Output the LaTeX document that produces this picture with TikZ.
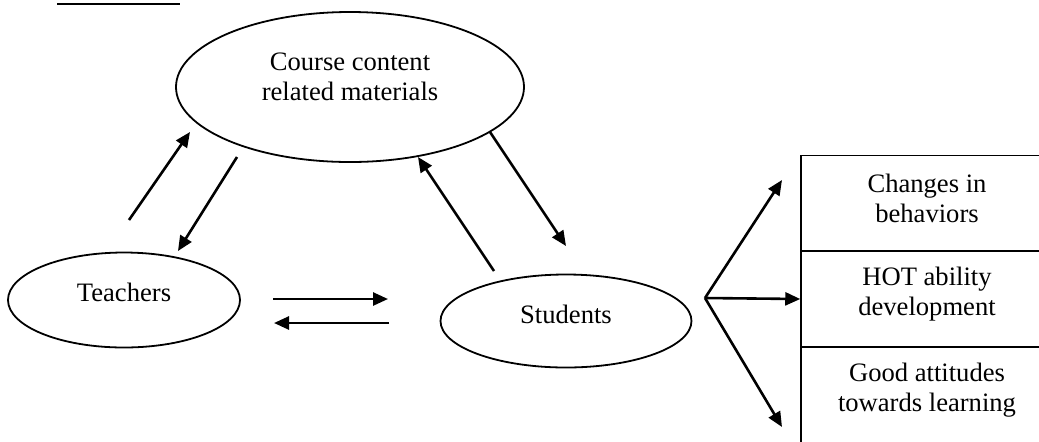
\documentclass[tikz,border=0pt]{standalone}
\usepackage{fontspec}
\setmainfont{Liberation Serif}
\usetikzlibrary{arrows.meta,shapes.geometric}

\tikzset{every picture/.style={line width=0.75pt}}
\tikzset{
  oval/.style={draw, ellipse, inner sep=0pt, line width=0.9pt},
  txt/.style={inner sep=0pt, align=center, font=\fontsize{13.3}{15}\selectfont},
  outbox/.style={draw, rectangle, minimum width=126pt, minimum height=48pt, inner sep=0pt},
  link/.style={line width=1.3pt, -{Triangle[length=7.5pt,width=6.5pt]}}
}

\begin{document}
\begin{tikzpicture}[x=0.5pt,y=-0.5pt]
  \useasboundingbox (0,0) rectangle (1039,441);

  % underline of the clipped heading
  \coordinate (ulA) at (57,4);
  \coordinate (ulB) at (180,4);
  \draw[line width=1pt] (ulA) -- (ulB);

  % Ellipses
  \node[oval, minimum width=174pt, minimum height=75pt] (course) at (350,87) {};
  \node[txt] (coursetxt) at (350,77) {Course content\\related materials};

  \node[oval, minimum width=116pt, minimum height=47.5pt] (teach) at (124,300) {};
  \node[txt] (teachtxt) at (124,292) {Teachers};

  \node[oval, minimum width=125.5pt, minimum height=46.5pt] (stud) at (566,321) {};
  \node[txt] (studtxt) at (566,314) {Students};

  % Outcome boxes
  \node[outbox] (behav) at (927,203.5) {};
  \node[txt] (behavtxt) at (927,198) {Changes in\\behaviors};
  \node[outbox] (hot) at (927,299) {};
  \node[txt] (hottxt) at (927,294) {HOT ability\\development};
  \node[outbox] (attit) at (927,395) {};
  \node[txt] (attittxt) at (927,390) {Good attitudes\\towards learning};

  % Arrow end points
  \coordinate (tUp0) at (129,220);   \coordinate (tUp1) at (190,132);
  \coordinate (tDn0) at (237,157);   \coordinate (tDn1) at (178,251);
  \coordinate (sUp0) at (494,271);   \coordinate (sUp1) at (418,157);
  \coordinate (sDn0) at (490,132);   \coordinate (sDn1) at (566,246);
  \coordinate (hR0) at (273,299);    \coordinate (hR1) at (388,299);
  \coordinate (hL0) at (389,323);    \coordinate (hL1) at (274,323);
  \coordinate (fan) at (705,298);
  \coordinate (fanUp) at (782,180);
  \coordinate (fanDn) at (782,427);

  % Arrows
  \draw[link] (tUp0) -- (tUp1);
  \draw[link] (tDn0) -- (tDn1);
  \draw[link] (sUp0) -- (sUp1);
  \draw[link] (sDn0) -- (sDn1);
  \draw[link] (hR0) -- (hR1);
  \draw[link] (hL0) -- (hL1);
  \draw[link] (fan) -- (fanUp);
  \draw[link] (fan) -- (hot.west);
  \draw[link] (fan) -- (fanDn);
\end{tikzpicture}
\end{document}
